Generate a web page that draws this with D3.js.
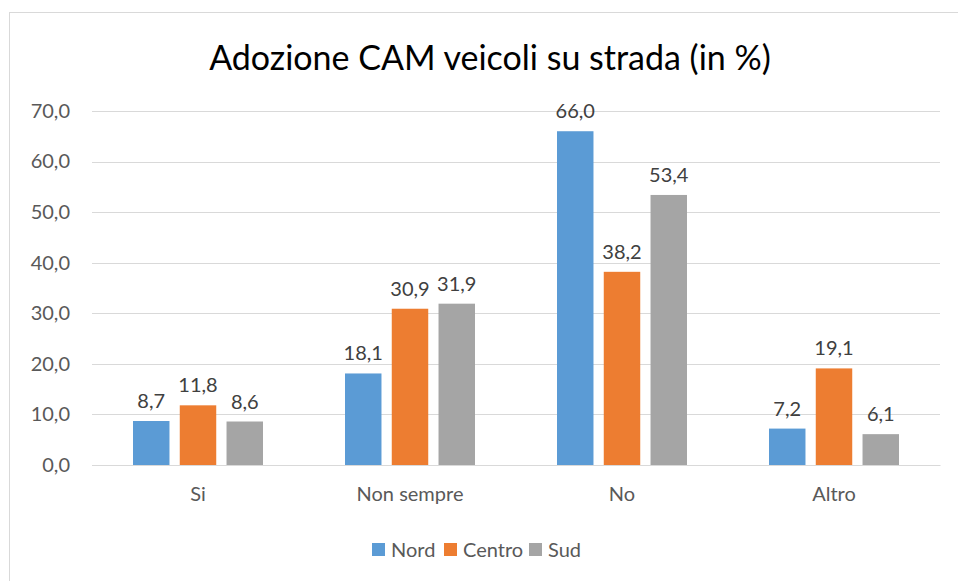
<!DOCTYPE html>
<html>
<head>
<meta charset="utf-8">
<script src="https://cdn.jsdelivr.net/npm/d3@7"></script>
<style>
  body { margin: 0; background: #fff; }
  text { font-family: Lato, "Open Sans", sans-serif; }
</style>
</head>
<body>
<figure id="chart" style="margin:0"></figure>
<script>
// data
var categories = ["Si", "Non sempre", "No", "Altro"];
var series = ["Nord", "Centro", "Sud"];
var nord = [8.7, 18.1, 66.0, 7.2];
var centro = [11.8, 30.9, 38.2, 19.1];
var sud = [8.6, 31.9, 53.4, 6.1];
var yTicks = [0, 10, 20, 30, 40, 50, 60, 70];
var colors = ["#5b9bd5", "#ed7d31", "#a5a5a5"];

var W = 958, H = 581;
var margin = {top: 111, right: 18, bottom: 116, left: 92},
    width = W - margin.left - margin.right,
    height = H - margin.top - margin.bottom;

var fmt = function(v) { return d3.format(".1f")(v).replace(".", ","); };

var svg = d3.select("figure#chart")
    .append("svg")
    .attr("width", W)
    .attr("height", H);

// chart border
svg.append("rect")
    .attr("x", 9.5).attr("y", 12.5)
    .attr("width", W).attr("height", H)
    .attr("fill", "none")
    .attr("stroke", "#d9d9d9");

svg.append("text")
    .attr("x", 490).attr("y", 70)
    .attr("text-anchor", "middle")
    .attr("font-size", 34)
    .attr("fill", "#000")
    .text("Adozione CAM veicoli su strada (in %)");

var g = svg.append("g")
    .attr("transform", "translate(" + margin.left + "," + margin.top + ")");

var x = d3.scaleBand().domain(categories).range([0, width]);
var x1 = d3.scaleBand().domain(series).range([41, x.bandwidth() - 41]).paddingInner(0.22);
var y = d3.scaleLinear().domain([0, 70]).range([height, 0]);

// gridlines
g.append("g")
    .selectAll("line")
    .data(yTicks)
    .enter().append("line")
    .attr("x1", 0).attr("x2", width)
    .attr("y1", function(d) { return Math.round(y(d)) + 0.5; })
    .attr("y2", function(d) { return Math.round(y(d)) + 0.5; })
    .attr("stroke", "#d9d9d9");

// y axis labels
var yAxis = g.append("g")
    .call(d3.axisLeft(y).tickValues(yTicks).tickFormat(fmt).tickSize(0).tickPadding(22));
yAxis.select(".domain").remove();
yAxis.selectAll("text").attr("font-size", 20).attr("fill", "#595959").attr("font-family", "Lato, sans-serif");

// x axis
var xAxis = g.append("g")
    .attr("transform", "translate(0," + height + ")")
    .call(d3.axisBottom(x).tickSize(0).tickPadding(22));
xAxis.select(".domain").attr("stroke", "#d9d9d9");
xAxis.selectAll("text").attr("font-size", 20).attr("fill", "#595959").attr("font-family", "Lato, sans-serif");

var rows = categories.map(function(c, i) {
    return {cat: c, vals: [nord[i], centro[i], sud[i]]};
});

var groups = g.append("g")
    .selectAll("g")
    .data(rows)
    .enter().append("g")
    .attr("transform", function(d) { return "translate(" + x(d.cat) + ",0)"; });

groups.selectAll("rect")
    .data(function(d) { return d.vals.map(function(v, j) { return {s: series[j], v: v, j: j}; }); })
    .enter().append("rect")
    .attr("x", function(d) { return x1(d.s); })
    .attr("y", function(d) { return y(d.v); })
    .attr("width", x1.bandwidth())
    .attr("height", function(d) { return y(0) - y(d.v); })
    .attr("fill", function(d) { return colors[d.j]; });

groups.selectAll("text.lbl")
    .data(function(d) { return d.vals.map(function(v, j) { return {s: series[j], v: v}; }); })
    .enter().append("text")
    .attr("class", "lbl")
    .attr("x", function(d) { return x1(d.s) + x1.bandwidth() / 2; })
    .attr("y", function(d) { return y(d.v) - 13; })
    .attr("text-anchor", "middle")
    .attr("font-size", 20)
    .attr("fill", "#404040")
    .text(function(d) { return fmt(d.v); });

// legend
var legX = [372, 444, 529];
var leg = svg.append("g")
    .selectAll("g")
    .data(series)
    .enter().append("g")
    .attr("transform", function(d, i) { return "translate(" + legX[i] + ",543)"; });
leg.append("rect")
    .attr("width", 13).attr("height", 13)
    .attr("fill", function(d, i) { return colors[i]; });
leg.append("text")
    .attr("x", 19).attr("y", 14)
    .attr("font-size", 20)
    .attr("fill", "#595959")
    .text(function(d) { return d; });
</script>
</body>
</html>
